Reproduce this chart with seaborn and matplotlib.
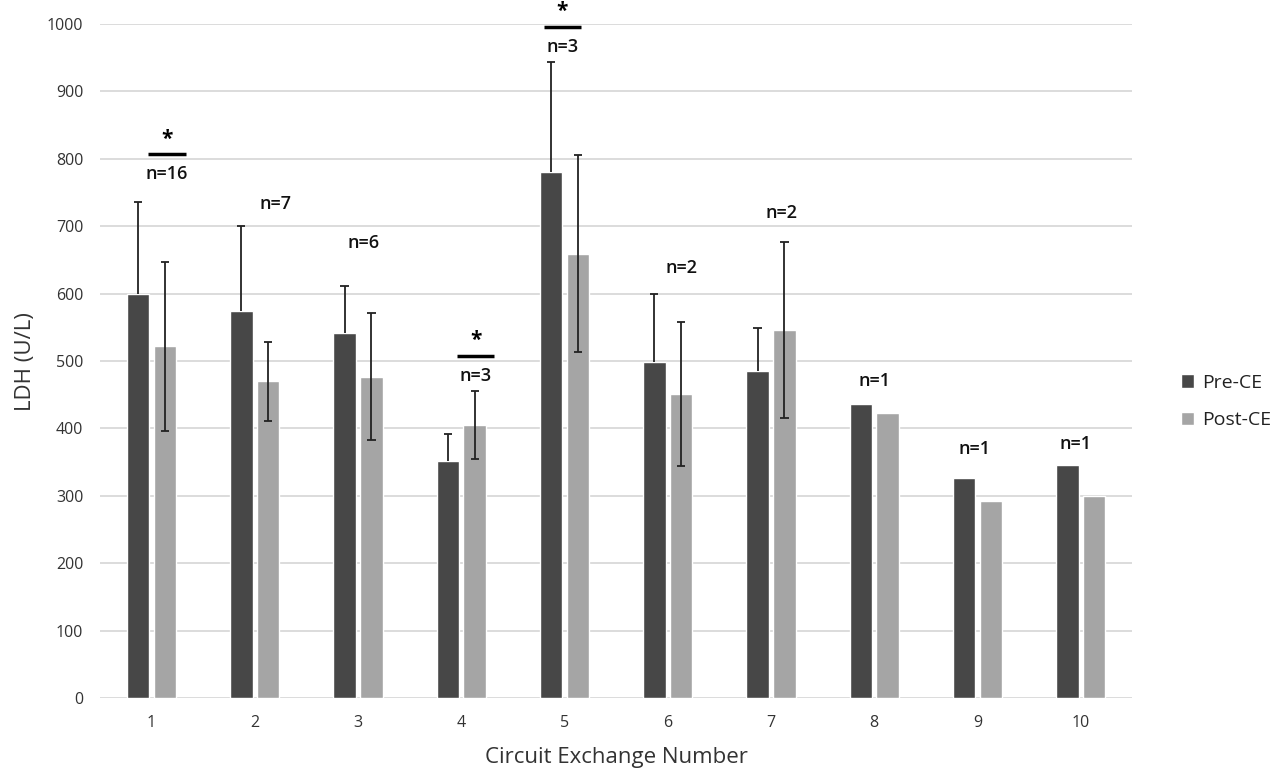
import matplotlib
matplotlib.use("Agg")
import matplotlib.pyplot as plt
import pandas as pd
import numpy as np
import seaborn as sns

# values (LDH, U/L)
exchange = [str(i) for i in range(1, 11)]
pre_ce = [600, 575, 541, 352, 781, 499, 485, 437, 326, 346]
post_ce = [522, 470, 477, 405, 659, 451, 546, 423, 293, 300]
pre_err = [136, 126, 70, 40, 162, 101, 64, 0, 0, 0]
post_err = [125, 59, 94, 50, 146, 107, 130, 0, 0, 0]
n_labels = ["n=16", "n=7", "n=6", "n=3", "n=3", "n=2", "n=2", "n=1", "n=1", "n=1"]
n_y = [777, 733, 675, 478, 966, 638, 719, 471, 370, 377]
significant = [True, False, False, True, True, False, False, False, False, False]

df = pd.DataFrame({
    "Circuit Exchange Number": exchange * 2,
    "LDH": pre_ce + post_ce,
    "group": ["Pre-CE"] * 10 + ["Post-CE"] * 10,
})

sns.set_style("white")
plt.rcParams["font.family"] = ["Open Sans", "DejaVu Sans"]

fig = plt.figure(figsize=(12.81, 7.74), dpi=100)
ax = fig.add_axes([0.078, 0.098, 0.806, 0.871])

palette = {"Pre-CE": "#474747", "Post-CE": "#a5a5a5"}
sns.barplot(data=df, x="Circuit Exchange Number", y="LDH", hue="group",
            palette=palette, width=0.52, gap=0.16, saturation=1, errorbar=None, ax=ax)

# error bars: the lower half on the dark bars is not visible in the original
cap = 0.04
for k, (cont, errs) in enumerate(zip(ax.containers, [pre_err, post_err])):
    for bar, e in zip(cont, errs):
        if e > 0:
            xc = bar.get_x() + bar.get_width() / 2
            top = bar.get_height() + e
            low = bar.get_height() if k == 0 else bar.get_height() - e
            ax.vlines(xc, low, top, color="#222222", lw=1.3, zorder=4)
            ax.hlines(top, xc - cap, xc + cap, color="#222222", lw=1.3, zorder=4)
            if k == 1:
                ax.hlines(low, xc - cap, xc + cap, color="#222222", lw=1.3, zorder=4)

# n labels and significance markers
x_shift = [0.15, 0.2, 0.05, 0.14, -0.02, 0.13, 0.1, 0.0, -0.03, -0.05]
for i, (lab, yv) in enumerate(zip(n_labels, n_y)):
    xc = i + x_shift[i]
    ax.text(xc, yv, lab, ha="center", va="center", fontsize=13,
            fontweight="semibold", color="#111111")
    if significant[i]:
        ax.plot([xc - 0.18, xc + 0.18], [yv + 30, yv + 30], color="black", lw=2.5,
                clip_on=False, solid_capstyle="butt")
        ax.text(xc, yv + 52, "*", ha="center", va="center", fontsize=15,
                fontweight="bold", color="black", clip_on=False)

ax.set_ylim(0, 1000)
ax.set_xlim(-0.5, 9.5)
ax.set_yticks(np.arange(0, 1001, 100))
ax.yaxis.grid(True, color="#d9d9d9", lw=1.3)
ax.set_axisbelow(True)
for s in ax.spines.values():
    s.set_visible(False)
ax.tick_params(axis="both", length=0, labelsize=11.5, colors="#333333", pad=12)
ax.set_xlabel("Circuit Exchange Number", fontsize=16, color="#333333", labelpad=12)
ax.set_ylabel("LDH (U/L)", fontsize=16, color="#333333", labelpad=8)

ax.legend(loc="center left", bbox_to_anchor=(1.03, 0.44), frameon=False,
          fontsize=14, handlelength=0.7, handleheight=0.7, handletextpad=0.4,
          labelspacing=1.0, labelcolor="#222222")

fig.savefig("out.png", dpi=100)
